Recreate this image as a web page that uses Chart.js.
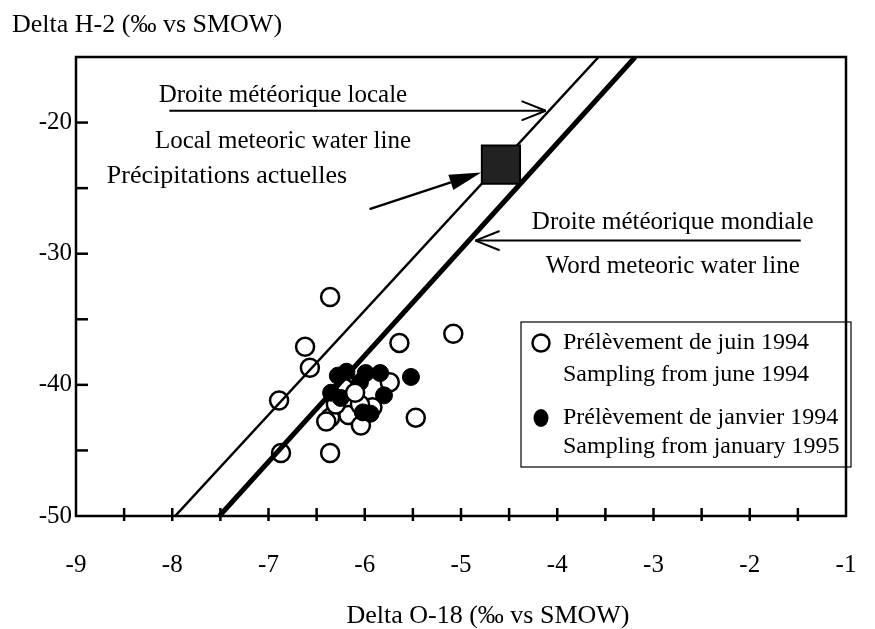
<!DOCTYPE html>
<html>
<head>
<meta charset="utf-8">
<script src="https://cdn.jsdelivr.net/npm/chart.js@4.4.1/dist/chart.umd.min.js"></script>
<style>
html, body { margin: 0; padding: 0; background: #fff; }
#wrap { width: 875px; height: 629px; }
</style>
</head>
<body>
<div id="wrap"><canvas id="isotope-chart"></canvas></div>
<script>
// samples from june 1994 (open circles); the first group sits behind the black dots
const june_back = [
    [-6.36, -33.3], [-6.62, -37.1], [-6.57, -38.7], [-6.89, -41.2],
    [-6.87, -45.2], [-6.36, -45.2], [-5.64, -36.8], [-5.08, -36.1],
    [-5.47, -42.5], [-5.74, -39.8], [-6.36, -42.5], [-6.17, -42.3],
    [-6.04, -43.1], [-5.92, -41.7], [-6.40, -42.8], [-6.30, -41.5],
    [-6.05, -41.5], [-6.22, -40.2]
]
const june_front = [[-6.10, -40.6]]
// samples from january 1995 (black dots)
const january = [
    [-6.19, -39.0], [-6.28, -39.3], [-5.99, -39.1], [-5.84, -39.1],
    [-6.35, -40.6], [-5.80, -40.8], [-6.02, -42.1], [-5.94, -42.2],
    [-6.05, -39.8], [-5.52, -39.4], [-6.25, -41.0]
]
const precip_now = [[-4.585, -23.2]]
const local_line = [[-7.97, -50], [-3.57, -15]]
const world_line = [[-7.51, -50], [-3.19, -15]]

const x_labels = [-9, -8, -7, -6, -5, -4, -3, -2, -1]
const y_labels = [-50, -40, -30, -20]
const x_marks = [-8.5, -8, -7.5, -7, -6.5, -6, -5.5, -5, -4.5, -4, -3.5, -3, -2.5, -2, -1.5]
const y_marks = [-45, -40, -35, -30, -25, -20]

const FONT = `"Liberation Serif", "Times New Roman", serif`
const pts = (arr) => arr.map(([x, y]) => ({ x, y }))

function line(ctx, x1, y1, x2, y2) {
    ctx.beginPath()
    ctx.moveTo(x1, y1)
    ctx.lineTo(x2, y2)
    ctx.stroke()
}

function open_arrow(ctx, x1, y1, x2, y2) {
    const ang = Math.atan2(y2 - y1, x2 - x1)
    line(ctx, x1, y1, x2, y2)
    for (const s of [-1, 1]) {
        const a = ang + Math.PI + s * 0.38
        line(ctx, x2, y2, x2 + 26 * Math.cos(a), y2 + 26 * Math.sin(a))
    }
}

function filled_arrow(ctx, x1, y1, x2, y2) {
    const ang = Math.atan2(y2 - y1, x2 - x1)
    const bx = x2 - 32 * Math.cos(ang)
    const by = y2 - 32 * Math.sin(ang)
    line(ctx, x1, y1, bx, by)
    ctx.beginPath()
    ctx.moveTo(x2, y2)
    ctx.lineTo(bx + 8 * Math.sin(ang), by - 8 * Math.cos(ang))
    ctx.lineTo(bx - 8 * Math.sin(ang), by + 8 * Math.cos(ang))
    ctx.closePath()
    ctx.fill()
}

const decor = {
    id: 'decor',
    afterDraw(chart) {
        const { ctx, chartArea: a, scales: { x, y } } = chart
        const px = (v) => x.getPixelForValue(v)
        const py = (v) => y.getPixelForValue(v)
        ctx.save()
        ctx.strokeStyle = '#000'
        ctx.fillStyle = '#000'
        ctx.lineWidth = 2.5
        ctx.strokeRect(a.left, a.top, a.right - a.left, a.bottom - a.top)
        x_marks.forEach(v => line(ctx, px(v), a.bottom - 8, px(v), a.bottom + 5))
        y_marks.forEach(v => line(ctx, a.left, py(v), a.left + 12, py(v)))

        // x axis title, set a bit right of the plot centre as in the source figure
        ctx.font = `26px ${FONT}`
        ctx.textAlign = 'center'
        ctx.textBaseline = 'alphabetic'
        ctx.fillText('Delta O-18 (‰ vs SMOW)', px(-4.72), 623)

        // annotations
        ctx.font = `25px ${FONT}`
        ctx.textBaseline = 'middle'
        ctx.fillText('Droite météorique locale', px(-6.85), py(-17.9))
        ctx.fillText('Local meteoric water line', px(-6.85), py(-21.45))
        ctx.fillText('Droite météorique mondiale', px(-2.8), py(-27.6))
        ctx.fillText('Word meteoric water line', px(-2.8), py(-31.0))
        ctx.lineWidth = 2
        open_arrow(ctx, px(-8.03), py(-19.1), px(-4.12), py(-19.1))
        open_arrow(ctx, px(-1.47), py(-29.0), px(-4.85), py(-29.0))

        ctx.font = `26px ${FONT}`
        ctx.textAlign = 'left'
        ctx.fillText('Précipitations actuelles', px(-8.68), py(-24.1))
        ctx.lineWidth = 2.5
        filled_arrow(ctx, px(-5.95), py(-26.6), px(-4.79), py(-23.8))

        // legend box
        const lx = 521, ly = 322, lw = 330, lh = 145
        ctx.lineWidth = 1.2
        ctx.strokeRect(lx, ly, lw, lh)
        ctx.lineWidth = 2.5
        ctx.fillStyle = '#fff'
        ctx.beginPath()
        ctx.arc(lx + 20, ly + 21, 8.5, 0, Math.PI * 2)
        ctx.fill()
        ctx.stroke()
        ctx.fillStyle = '#000'
        ctx.beginPath()
        ctx.ellipse(lx + 20, ly + 96, 7.5, 9, 0, 0, Math.PI * 2)
        ctx.fill()
        ctx.font = `24px ${FONT}`
        ctx.fillText('Prélèvement de juin 1994', lx + 42, ly + 21)
        ctx.fillText('Sampling from june 1994', lx + 42, ly + 53)
        ctx.fillText('Prélèvement de janvier 1994', lx + 42, ly + 96)
        ctx.fillText('Sampling from january 1995', lx + 42, ly + 125)
        ctx.restore()
    }
}

const open_style = {
    type: 'scatter', pointRadius: 9, pointBorderWidth: 2.5,
    pointBackgroundColor: '#fff', pointBorderColor: '#000'
}

const chart = new Chart(document.getElementById('isotope-chart').getContext('2d'), {
    type: 'scatter',
    data: {
        datasets: [{
            label: 'Précipitations actuelles',
            data: pts(precip_now),
            pointStyle: 'rect', pointRadius: 27, pointBorderWidth: 2,
            pointBackgroundColor: '#222', pointBorderColor: '#000'
        }, {
            label: 'Droite météorique locale',
            type: 'line', data: pts(local_line),
            borderColor: '#000', borderWidth: 2.5, pointRadius: 0, fill: false
        }, {
            label: 'Droite météorique mondiale',
            type: 'line', data: pts(world_line),
            borderColor: '#000', borderWidth: 5, pointRadius: 0, fill: false
        }, {
            ...open_style, label: 'Prélèvement de juin 1994 (devant)', data: pts(june_front)
        }, {
            label: 'Prélèvement de janvier 1994',
            data: pts(january),
            pointRadius: 8.5, pointBorderWidth: 1,
            pointBackgroundColor: '#000', pointBorderColor: '#000'
        }, {
            ...open_style, label: 'Prélèvement de juin 1994', data: pts(june_back)
        }]
    },
    options: {
        animation: false,
        responsive: true,
        maintainAspectRatio: false,
        events: [],
        layout: { padding: { left: 12, right: 9, top: 0, bottom: 0 } },
        plugins: {
            legend: { display: false },
            tooltip: { enabled: false },
            title: {
                display: true,
                text: 'Delta H-2 (‰ vs SMOW)',
                align: 'start',
                color: '#000',
                font: { family: FONT, size: 26, weight: 'normal' },
                padding: { top: 9.6, bottom: 16.2 }
            }
        },
        scales: {
            x: {
                type: 'linear', min: -9, max: -1,
                afterBuildTicks: (s) => { s.ticks = x_labels.map(v => ({ value: v })) },
                afterFit: (s) => { s.height = 113; s.paddingLeft = 0; s.paddingRight = 0 },
                grid: { display: false, drawTicks: false },
                border: { display: false },
                ticks: { color: '#000', padding: 34, maxRotation: 0, font: { family: FONT, size: 25 } }
            },
            y: {
                type: 'linear', min: -50, max: -15,
                afterBuildTicks: (s) => { s.ticks = y_labels.map(v => ({ value: v })) },
                afterFit: (s) => { s.width = 64; s.paddingTop = 0; s.paddingBottom = 0 },
                grid: { display: false, drawTicks: false },
                border: { display: false },
                ticks: { color: '#000', padding: 4, font: { family: FONT, size: 25 } }
            }
        }
    },
    plugins: [decor]
})
</script>
</body>
</html>
